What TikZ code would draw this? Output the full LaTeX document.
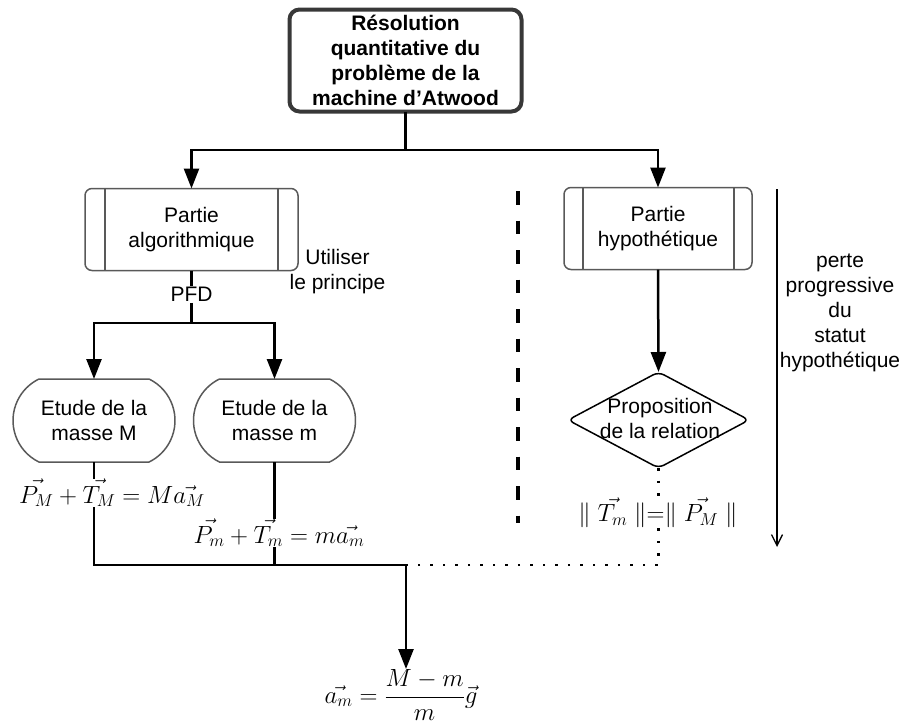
\documentclass[tikz,border=0pt]{standalone}
\usepackage{fontspec}
\setmainfont{Liberation Sans}
\usetikzlibrary{arrows.meta,shapes.geometric,shapes.misc,calc}
\begin{document}
\begin{tikzpicture}[x=1pt,y=-1pt,
  font=\fontsize{21}{25}\selectfont,
  plain/.style={line width=2.5pt},
  conn/.style={line width=2.5pt,-{Triangle[length=20pt,width=15pt]}},
  titlebox/.style={draw=black!78,line width=4pt,rounded corners=10pt,align=center,
    minimum width=232pt,minimum height=102pt,inner sep=0pt,outer sep=0pt,font=\fontsize{21}{25}\selectfont\bfseries},
  procbox/.style={draw=black!65,line width=1.5pt,rounded corners=7pt,align=center,
    minimum height=82pt,inner sep=0pt,outer sep=0pt},
  bar/.style={draw=black!65,line width=1.5pt},
  stadium/.style={rounded rectangle,rounded rectangle arc length=128,draw=black!65,line width=1.5pt,
    align=center,minimum width=162pt,minimum height=83pt,inner sep=0pt,outer sep=0pt},
  decision/.style={diamond,draw=black,line width=1.5pt,rounded corners=6pt,
    minimum width=181pt,minimum height=96pt,inner sep=0pt,outer sep=0pt},
  lbl/.style={align=center,inner sep=1pt},
  eq/.style={inner sep=0pt,fill=white,font=\fontsize{23}{28}\selectfont},
  dots/.style={line width=2.5pt,dash pattern=on 2.5pt off 10pt},
  thickdash/.style={line width=3.5pt,dash pattern=on 13.5pt off 16pt},
  progress/.style={line width=1.3pt,-{Straight Barb[length=11pt,width=11pt]}}
]
\useasboundingbox (0,0) rectangle (908,724);

% title
\node[titlebox] (top) at (405.5,60.5) {Résolution\\quantitative du\\problème de la\\machine d\symbol{39}Atwood};

% process boxes
\node[procbox,minimum width=213pt] (pa) at (191.5,229.5) {Partie\\algorithmique};
\draw[bar] ([xshift=20pt]pa.north west) -- ([xshift=20pt]pa.south west);
\draw[bar] ([xshift=-20pt]pa.north east) -- ([xshift=-20pt]pa.south east);

\node[procbox,minimum width=188pt] (ph) at (658,228.5) {Partie\\hypothétique};
\draw[bar] ([xshift=19pt]ph.north west) -- ([xshift=19pt]ph.south west);
\draw[bar] ([xshift=-18pt]ph.north east) -- ([xshift=-18pt]ph.south east);

% top branching
\coordinate (tj) at (405.5,150);
\draw[plain] (top.south) -- (tj);
\draw[conn] (tj) -| (pa.north);
\draw[conn] (tj) -| (ph.north);

% PFD
\node[lbl] (use) at (337.5,272) {Utiliser\\le principe};
\node[lbl] (pfd) at (191.5,294.5) {PFD};
\draw[plain] (pa.south) -- (pfd.north);
\coordinate (pj) at (191.5,323);
\draw[plain] (pfd.south) -- (pj);

% masses
\node[stadium] (mM) at (94,420.5) {Etude de la\\masse M};
\node[stadium] (mm) at (274.5,420.5) {Etude de la\\masse m};
\draw[conn] (pj) -| (mM.north);
\draw[conn] (pj) -| (mm.north);

% bottom junction
\coordinate (bj) at (406,565);
\draw[plain] (mM.south) |- (bj);
\draw[plain] (mm.south) -- (mm.south |- bj);

\node[eq] (eqM) at (112,493) {$\vec{P_M}+\vec{T_M}=M\vec{a_M}$};
\node[eq] (eqm) at (279,533) {$\vec{P_m}+\vec{T_m}=m\vec{a_m}$};

\node[eq,anchor=north] (eqb) at (401,669) {$\vec{a_m}=\displaystyle\frac{M-m}{m}\vec{g}$};
\draw[conn] (bj) -- (bj |- eqb.north);

% hypothetical side
\node[decision] (d) at (658.5,420) {};
\node[lbl] (dt) at (660,418) {Proposition\\de la relation};
\draw[conn] (ph.south) -- (d.north);

\node[eq] (eqr) at (658,513) {$\parallel \vec{T_m} \parallel = \parallel \vec{P_M} \parallel$};
\draw[dots] (d.south) -- (eqr.north -| d.south);
\draw[dots] (eqr.south -| d.south) |- (bj);

% separator
\coordinate (s1) at (518,191);
\coordinate (s2) at (518,523);
\draw[thickdash] (s1) -- (s2);

% progress arrow
\coordinate (p1) at (777,189);
\coordinate (p2) at (777,547);
\draw[progress] (p1) -- (p2);
\node[lbl] (pl) at (840,313) {perte\\progressive\\du\\statut\\hypothétique};
\end{tikzpicture}
\end{document}
